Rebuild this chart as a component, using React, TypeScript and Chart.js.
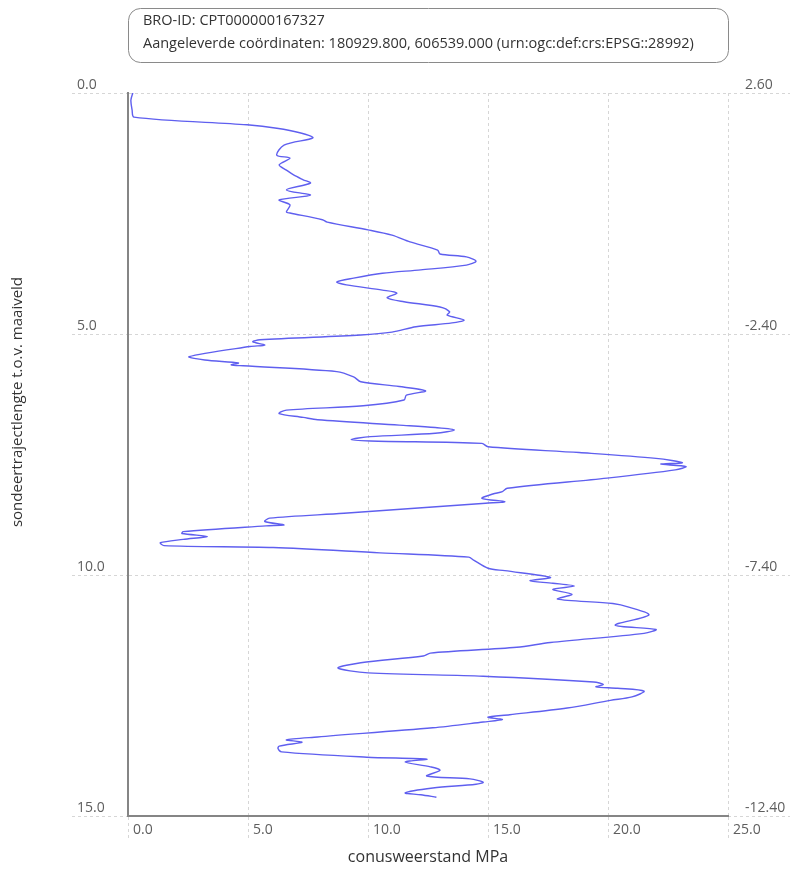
import React, { useEffect, useRef } from 'react';
import { Chart, registerables } from 'chart.js';

Chart.register(...registerables);

// ---- data ----
const headerLines = [
  'BRO-ID: CPT000000167327',
  'Aangeleverde coördinaten: 180929.800, 606539.000 (urn:ogc:def:crs:EPSG::28992)',
];
const xTitle = 'conusweerstand MPa';
const yTitle = 'sondeertrajectlengte t.o.v. maaiveld';

const qcTicks = [0, 5, 10, 15, 20, 25];
const depthTicks = [0, 5, 10, 15];
const napTicks = [2.6, -2.4, -7.4, -12.4];

// depth along probe (m) and cone resistance (MPa)
const depth = [
  0.0, 0.15, 0.35, 0.5, 0.66, 0.73, 0.83, 0.93, 1.08, 1.29, 1.35, 1.49, 1.6, 1.7, 1.8, 1.87,
  2.01, 2.12, 2.22, 2.32, 2.47, 2.49, 2.63, 2.68, 2.84,
  2.95, 3.09, 3.26, 3.34, 3.4, 3.49, 3.57, 3.67, 3.74, 3.84, 3.92, 3.98, 4.09, 4.15, 4.25,
  4.33, 4.44, 4.54, 4.61, 4.71, 4.77, 4.85, 4.96, 5.02, 5.12, 5.16, 5.23,
  5.26, 5.47, 5.54, 5.6, 5.64, 5.66, 5.78, 5.89, 5.99, 6.09, 6.18, 6.27, 6.37, 6.49, 6.58,
  6.65, 6.73, 6.78, 6.89, 6.94, 6.99, 7.06, 7.13, 7.19, 7.22, 7.27, 7.34, 7.46, 7.58, 7.67,
  7.7, 7.75, 7.82, 7.99, 8.2, 8.27, 8.32, 8.41, 8.48, 8.51,
  8.72, 8.82, 8.89, 8.96, 8.98, 9.1, 9.14, 9.2, 9.26, 9.33, 9.39, 9.43, 9.54, 9.63, 9.69,
  9.86, 9.91, 10.05, 10.12, 10.17, 10.23, 10.3, 10.4, 10.5, 10.59, 10.67, 10.83, 11.04,
  11.13, 11.21, 11.4, 11.5, 11.62, 11.68,
  11.82, 11.93, 12.03, 12.1, 12.22, 12.27, 12.32, 12.35, 12.41, 12.53, 12.6, 12.76, 12.9,
  12.95, 13.0, 13.05, 13.17, 13.36, 13.42, 13.47, 13.55, 13.6, 13.67, 13.78, 13.82, 13.88,
  13.98, 14.05, 14.17, 14.23, 14.3, 14.34, 14.42, 14.52, 14.56, 14.61,
];
const qc = [
  0.2, 0.12, 0.17, 0.25, 4.96, 6.2, 7.2, 7.7, 6.5, 6.2, 6.75, 6.3, 6.6, 6.9, 7.3, 7.6,
  6.6, 7.6, 6.3, 6.75, 6.6, 6.75, 8.1, 8.3, 10.0,
  11.0, 11.75, 12.9, 13.0, 14.1, 14.5, 14.1, 12.2, 10.6, 9.4, 8.7, 9.1, 10.6, 11.2, 10.8,
  11.5, 13.0, 13.4, 13.3, 14.0, 13.5, 12.0, 11.0, 9.7, 5.5, 5.2, 5.7,
  5.08, 2.55, 3.2, 4.6, 4.3, 4.8, 8.7, 9.4, 9.7, 11.3, 12.4, 11.6, 11.5, 9.8, 6.6,
  6.3, 7.3, 7.9, 11.3, 12.8, 13.6, 12.8, 10.1, 9.3, 10.1, 14.75, 15.0, 18.8, 22.0, 23.1,
  22.2, 23.25, 22.8, 19.96, 15.8, 15.6, 15.2, 14.75, 15.7, 14.9,
  9.0, 5.9, 5.7, 6.5, 5.75, 2.3, 2.25, 3.3, 2.3, 1.35, 1.5, 6.05, 10.5, 14.2, 14.4,
  15.0, 15.7, 17.6, 16.75, 17.7, 18.6, 17.7, 18.5, 17.9, 20.2, 20.9, 21.7, 20.3,
  22.0, 21.5, 17.6, 16.2, 12.6, 12.3,
  9.7, 8.75, 10.0, 14.8, 19.4, 19.8, 19.5, 20.4, 21.5, 21.0, 20.1, 18.3, 15.9,
  15.0, 15.6, 14.8, 12.7, 7.9, 6.6, 7.25, 6.3, 6.25, 6.4, 9.95, 12.45, 11.55,
  12.6, 13.0, 12.45, 14.25, 14.8, 14.5, 12.7, 11.55, 12.2, 12.85,
];

const FONT = "'Open Sans', 'DejaVu Sans', sans-serif";
const GRID = '#d6d6d6';
const AXIS = '#858585';
const TICK_TEXT = '#5e5e5e';

const overlayPlugin = {
  id: 'overlay',
  afterDraw(chart: any) {
    const ctx = chart.ctx as CanvasRenderingContext2D;
    ctx.save();
    // header box
    ctx.beginPath();
    (ctx as any).roundRect(128.5, 8.5, 600, 54, 12);
    ctx.fillStyle = '#ffffff';
    ctx.fill();
    ctx.strokeStyle = '#8a8a8a';
    ctx.lineWidth = 1;
    ctx.stroke();
    ctx.fillStyle = '#333333';
    ctx.font = `14.5px ${FONT}`;
    ctx.textBaseline = 'middle';
    ctx.textAlign = 'left';
    ctx.fillText(headerLines[0], 143, 21);
    ctx.fillText(headerLines[1], 143, 44);
    // vertical axis title
    ctx.translate(18, 402);
    ctx.rotate(-Math.PI / 2);
    ctx.textAlign = 'center';
    ctx.font = `15px ${FONT}`;
    ctx.fillText(yTitle, 0, 0);
    ctx.restore();
  },
};

export default function App() {
  const ref = useRef<HTMLCanvasElement | null>(null);

  useEffect(() => {
    if (!ref.current) return;
    const points = depth.map((d, i) => ({ x: qc[i], y: d }));
    const chart = new Chart(ref.current, {
      type: 'scatter',
      data: {
        datasets: [
          {
            data: points,
            showLine: true,
            borderColor: '#5f5fef',
            borderWidth: 1.4,
            pointRadius: 0,
            tension: 0.3,
            fill: false,
          },
        ],
      },
      plugins: [overlayPlugin],
      options: {
        responsive: false,
        animation: false,
        devicePixelRatio: 1,
        layout: { padding: { left: 77, top: 93, right: 0, bottom: 0 } },
        plugins: { legend: { display: false }, tooltip: { enabled: false }, title: { display: false } },
        font: { family: FONT },
        scales: {
          x: {
            type: 'linear',
            position: 'bottom',
            min: 0,
            max: 25,
            afterBuildTicks: (s: any) => {
              s.ticks = qcTicks.map((v) => ({ value: v }));
            },
            afterFit: (s: any) => {
              s.height = 57;
            },
            grid: {
              color: GRID,
              lineWidth: 1,
              tickLength: 24,
              tickColor: GRID,
              tickBorderDash: [3, 3],
            },
            border: { display: true, color: AXIS, width: 2, dash: [3, 3] },
            ticks: {
              align: 'start',
              labelOffset: 5,
              padding: -18,
              color: TICK_TEXT,
              font: { family: FONT, size: 14 },
              callback: (v: any) => Number(v).toFixed(1),
            },
            title: {
              display: true,
              text: xTitle,
              color: '#333333',
              font: { family: FONT, size: 16 },
              padding: { top: 0, bottom: 6 },
            },
          },
          y: {
            type: 'linear',
            position: 'left',
            reverse: true,
            min: 0,
            max: 15,
            afterBuildTicks: (s: any) => {
              s.ticks = depthTicks.map((v) => ({ value: v }));
            },
            afterFit: (s: any) => {
              s.width = 51;
            },
            grid: {
              color: GRID,
              lineWidth: 1,
              tickLength: 56,
              tickColor: GRID,
              tickBorderDash: [3, 3],
            },
            border: { display: true, color: AXIS, width: 2, dash: [3, 3] },
            ticks: {
              crossAlign: 'far',
              labelOffset: -8,
              color: TICK_TEXT,
              font: { family: FONT, size: 14 },
              callback: (v: any) => Number(v).toFixed(1),
            },
          },
          y2: {
            type: 'linear',
            position: 'right',
            min: -12.4,
            max: 2.6,
            afterBuildTicks: (s: any) => {
              s.ticks = napTicks.map((v) => ({ value: v }));
            },
            afterFit: (s: any) => {
              s.width = 64;
            },
            grid: {
              drawOnChartArea: false,
              color: GRID,
              lineWidth: 1,
              tickLength: 62,
              tickColor: GRID,
              tickBorderDash: [3, 3],
            },
            border: { display: false },
            ticks: {
              crossAlign: 'near',
              padding: -45,
              labelOffset: -8,
              color: TICK_TEXT,
              font: { family: FONT, size: 14 },
              callback: (v: any) => Number(v).toFixed(2),
            },
          },
        },
      } as any,
    });
    return () => chart.destroy();
  }, []);

  return (
    <div style={{ position: 'fixed', left: 0, top: 0, width: 792, height: 873, background: '#fff' }}>
      <canvas ref={ref} width={792} height={873} style={{ display: 'block', width: 792, height: 873 }} />
    </div>
  );
}
